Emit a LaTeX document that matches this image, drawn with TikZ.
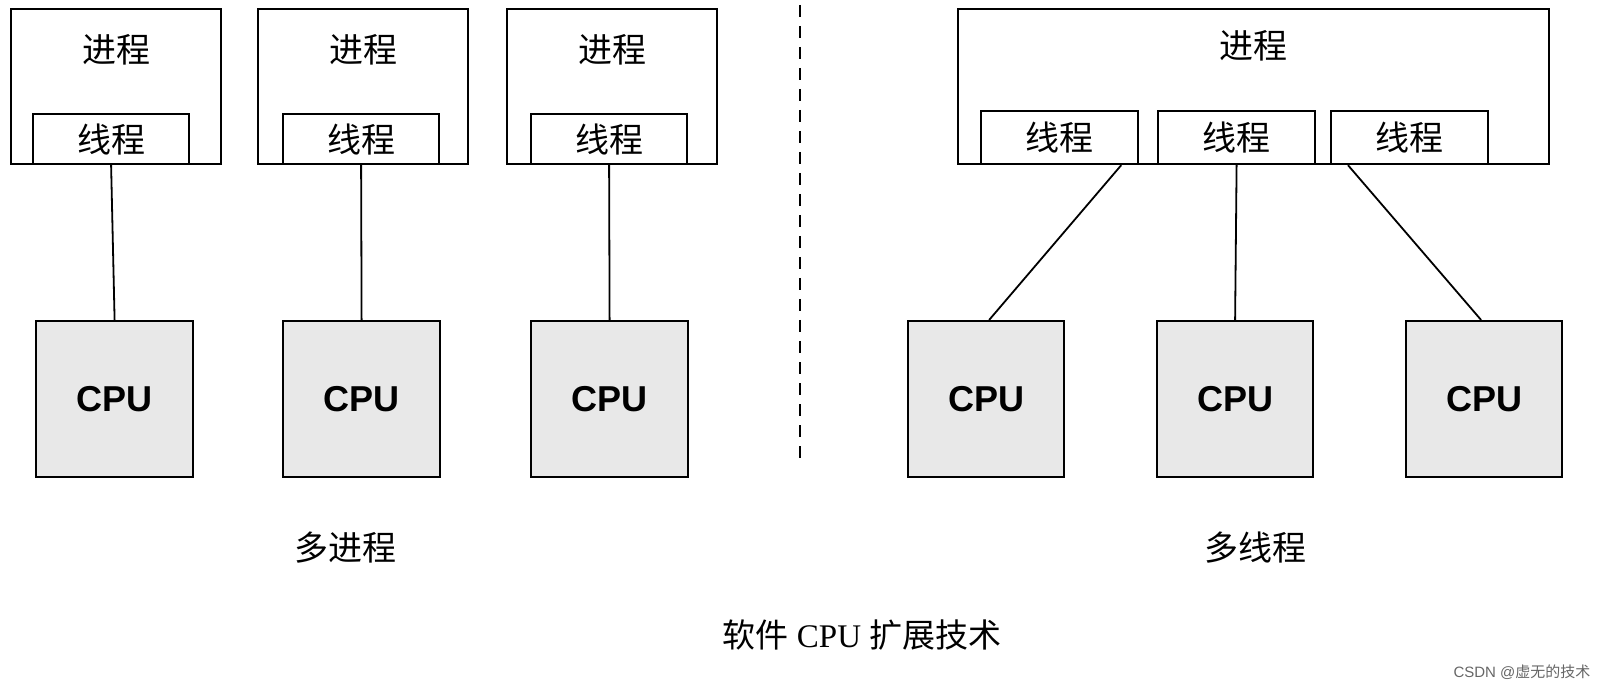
\documentclass[tikz,border=0pt]{standalone}
\usepackage{fontspec}
\setmainfont{Liberation Serif}
\newfontfamily\cjk{Noto Sans CJK SC}
\newfontfamily\arial{Liberation Sans}
\begin{document}
\begin{tikzpicture}[x=1pt,y=-1pt,
  box/.style={draw,line width=2.2pt,anchor=north west,inner sep=0pt},
  cpu/.style={box,fill=black!9,font=\arial\bfseries\fontsize{36}{42}\selectfont},
  lbl/.style={font=\cjk\fontsize{34}{40}\selectfont},
  ln/.style={line width=1.8pt}]
\useasboundingbox (0,0) rectangle (1616,692);
% left
\foreach \i/\px/\tx/\cx in {1/10/32/35,2/257/282/282,3/506/530/530}{
  \node[box,minimum width=210pt,minimum height=155pt] (p\i) at (\px,8) {};
  \node[lbl] at ([yshift=-42pt]p\i.north) {进程};
  \node[box,minimum width=156pt,minimum height=50pt,lbl] (t\i) at (\tx,113) {线程};
  \node[cpu,minimum width=157pt,minimum height=156pt] (c\i) at (\cx,320) {CPU};
  \draw[ln] (t\i.south) -- (c\i.north);
}
\draw[line width=2pt,dash pattern=on 12pt off 9pt] (800,5) coordinate (d1) -- (800,465) coordinate (d2);
% right
\node[box,minimum width=591pt,minimum height=155pt] (P) at (957,8) {};
\node[lbl] at ([yshift=-38pt]P.north) {进程};
\foreach \i/\tx/\cx in {4/980/907,5/1157/1156,6/1330/1405}{
  \node[box,minimum width=157pt,minimum height=53pt,lbl] (t\i) at (\tx,110) {线程};
  \node[cpu,minimum width=156pt,minimum height=156pt] (c\i) at (\cx,320) {CPU};
}
\draw[ln] ([xshift=-18pt]t4.south east) -- ([xshift=3pt]c4.north);
\draw[ln] (t5.south) -- (c5.north);
\draw[ln] ([xshift=18pt]t6.south west) -- ([xshift=-3pt]c6.north);
\node[lbl] (m1) at (345,548) {多进程};
\node[lbl] (m2) at (1255,548) {多线程};
\node[font=\fontsize{33}{38}\selectfont] (cap) at (862,635) {{\cjk 软件} CPU {\cjk 扩展技术}};
\node[font=\arial\fontsize{15}{18}\selectfont,text=black!60] (wm) at (1522,672) {CSDN @{\cjk 虚无的技术}};
\end{tikzpicture}
\end{document}
